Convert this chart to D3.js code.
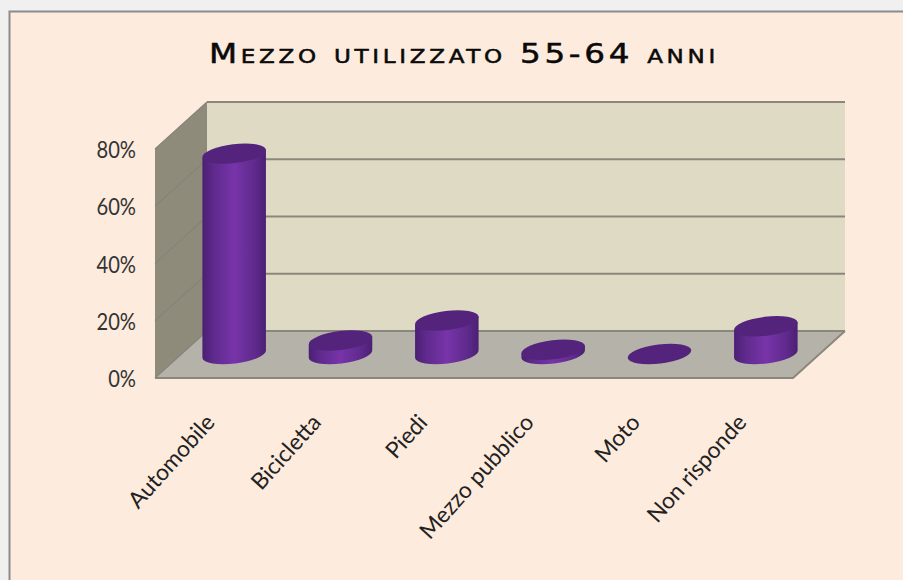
<!DOCTYPE html>
<html><head><meta charset="utf-8">
<script src="https://cdn.jsdelivr.net/npm/d3@7"></script>
<style>html,body{margin:0;padding:0;background:#f0f0f0;overflow:hidden}svg{display:block}</style>
</head><body><svg id="c" width="903" height="580"></svg>
<script>
const titleText = "Mezzo utilizzato 55-64 anni";
const categories = ["Automobile","Bicicletta","Piedi","Mezzo pubblico","Moto","Non risponde"];
const values = [70, 4.7, 11.7, 1.5, 0, 9.7];
const yTicks = [0,20,40,60,80];

const svg = d3.select("#c");
const x = d3.scaleBand().domain(categories).range([155,793]);
const y = d3.scaleLinear().domain([0,80]).range([378,149]);
const dx = 52, dy = -47;
const rx = 32, ry = 9.5, tilt = -7;

const defs = svg.append("defs");
const g = defs.append("linearGradient").attr("id","body");
[[0,"#4b2073"],[.18,"#5f2a8d"],[.5,"#7834a9"],[.82,"#5f2a8d"],[1,"#4b2073"]]
  .forEach(s=>g.append("stop").attr("offset",s[0]).attr("stop-color",s[1]));

svg.append("rect").attr("x",9.5).attr("y",11.5).attr("width",900).attr("height",580)
  .attr("fill","#fdebdd").attr("stroke","#8c8c8c").attr("stroke-width",2);

svg.append("text").attr("transform","translate(464,63) scale(1.23,1)").attr("text-anchor","middle")
  .attr("font-family","'DejaVu Sans'").attr("font-size",26.5).attr("font-variant","small-caps")
  .attr("letter-spacing",3).attr("fill","#0a0a0a").attr("stroke","#0a0a0a").attr("stroke-width",0.5)
  .text(titleText);

const [xl,xr] = x.range(), y0 = y(0), yt = y(80);
const line = d3.line();
svg.append("path").attr("d",line([[xl,y0],[xl+dx,y0+dy],[xl+dx,yt+dy],[xl,yt]])+"Z").attr("fill","#8e8b7b");
svg.append("rect").attr("x",xl+dx).attr("y",yt+dy).attr("width",xr-xl).attr("height",y0-yt).attr("fill","#dfdac4");
svg.append("path").attr("d",line([[xl,y0],[xr,y0],[xr+dx,y0+dy],[xl+dx,y0+dy]])+"Z").attr("fill","#b5b2aa");
yTicks.forEach(t=>{
  svg.append("path").attr("fill","none").attr("stroke","#8a887c").attr("stroke-width",2)
    .attr("d",line([[xl+dx,y(t)+dy],[xr+dx,y(t)+dy]]));
  svg.append("path").attr("fill","none").attr("stroke","#85847c").attr("stroke-width",1.2)
    .attr("d",line([[xl,y(t)],[xl+dx,y(t)+dy]]));
  svg.append("text").attr("transform",`translate(136,${y(t)+9}) scale(.84,1)`).attr("text-anchor","end")
    .attr("font-family","Lato").attr("font-size",24).attr("fill","#333")
    .text(t+"%");
});
svg.append("path").attr("fill","none").attr("stroke","#8a887c").attr("stroke-width",2)
  .attr("d",line([[xl,y0],[xr,y0],[xr+dx,y0+dy]]));

const rad = tilt*Math.PI/180, ex = rx*Math.cos(rad), ey = rx*Math.sin(rad);
categories.forEach((c,i)=>{
  const cx = x(c)+x.bandwidth()/2+dx/2;
  const base = y0+dy/2-0.5;
  const h = y0-y(values[i]);
  const top = base-h;
  const G = svg.append("g");
  if(h>0){
    G.append("path").attr("fill","url(#body)").attr("d",
      `M${cx-ex},${top-ey} L${cx-ex},${base-ey}`+
      ` A${rx},${ry} ${tilt} 0 0 ${cx+ex},${base+ey}`+
      ` L${cx+ex},${top+ey} Z`);
  }
  G.append("ellipse").attr("cx",0).attr("cy",0).attr("rx",rx).attr("ry",ry)
    .attr("transform",`translate(${cx},${top}) rotate(${tilt})`).attr("fill","#54247d");
  svg.append("text").attr("transform",`translate(${cx-24},${418}) rotate(-48)`)
    .attr("text-anchor","end").attr("dy","0.35em")
    .attr("font-family","Lato").attr("font-size",22.8).attr("fill","#222").text(c);
});
</script></body></html>
